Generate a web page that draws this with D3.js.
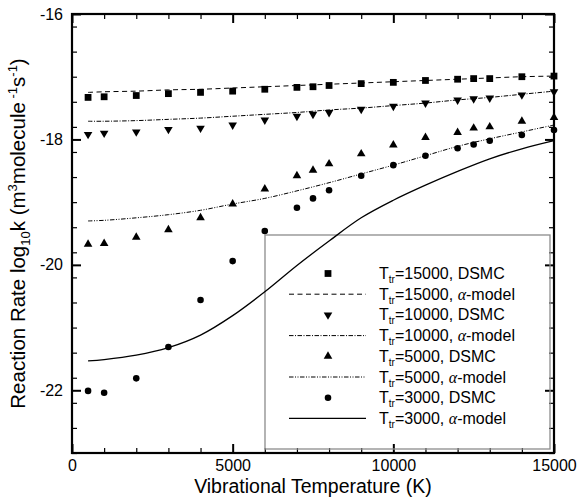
<!DOCTYPE html>
<html>
<head>
<meta charset="utf-8">
<script src="https://cdn.jsdelivr.net/npm/d3@7"></script>
<style>
  body { margin: 0; background: #fff; }
  text { font-family: "Liberation Sans", Arial, sans-serif; fill: #000; }
</style>
</head>
<body>
<svg id="chart" width="579" height="497"></svg>
<script>
// vibrational temperatures of the DSMC samples
const tvDsmc = [500, 1000, 2000, 3000, 4000, 5000, 6000, 7000, 7500, 8000, 9000, 10000, 11000, 12000, 12500, 13000, 14000, 15000];
const dsmc15000 = [-17.33, -17.32, -17.30, -17.27, -17.25, -17.23, -17.20, -17.17, -17.16, -17.14, -17.11, -17.09, -17.06, -17.04, -17.03, -17.03, -17.00, -16.99];
const dsmc10000 = [-17.92, -17.90, -17.88, -17.84, -17.82, -17.77, -17.69, -17.63, -17.60, -17.57, -17.52, -17.47, -17.42, -17.37, -17.35, -17.34, -17.29, -17.24];
const dsmc5000 = [-19.67, -19.66, -19.56, -19.44, -19.25, -19.03, -18.79, -18.58, -18.49, -18.39, -18.23, -18.09, -17.97, -17.89, -17.82, -17.80, -17.71, -17.65];
const dsmc3000 = [-22.01, -22.04, -21.81, -21.31, -20.56, -19.94, -19.46, -19.09, -18.94, -18.81, -18.58, -18.41, -18.26, -18.14, -18.08, -18.02, -17.93, -17.85];

// alpha-model curves
const tvModel = [500, 1000, 2000, 3000, 4000, 5000, 6000, 7000, 8000, 9000, 10000, 11000, 12000, 13000, 14000, 15000];
const model15000 = [-17.25, -17.24, -17.23, -17.21, -17.20, -17.18, -17.16, -17.14, -17.12, -17.10, -17.08, -17.06, -17.04, -17.02, -17.00, -16.99];
const model10000 = [-17.71, -17.71, -17.70, -17.68, -17.66, -17.63, -17.60, -17.57, -17.53, -17.50, -17.46, -17.42, -17.37, -17.33, -17.28, -17.23];
const model5000 = [-19.30, -19.29, -19.25, -19.20, -19.13, -19.03, -18.94, -18.82, -18.69, -18.55, -18.41, -18.26, -18.11, -17.99, -17.88, -17.77];
const model3000 = [-21.53, -21.51, -21.44, -21.32, -21.12, -20.81, -20.43, -20.01, -19.62, -19.25, -18.97, -18.73, -18.51, -18.31, -18.15, -18.02];

const xMajor = [0, 5000, 10000, 15000];
const yMajor = [-22, -20, -18, -16];

const series = [
  { ttr: '15000', dsmc: dsmc15000, model: model15000, marker: 'square', dash: '5,3.5', width: 1 },
  { ttr: '10000', dsmc: dsmc10000, model: model10000, marker: 'down', dash: '4.5,1.5,1,1.5', width: 1 },
  { ttr: '5000', dsmc: dsmc5000, model: model5000, marker: 'up', dash: '4.5,1.5,1,1.5,1,1.5', width: 1 },
  { ttr: '3000', dsmc: dsmc3000, model: model3000, marker: 'circle', dash: null, width: 1.3 }
];

const width = 579, height = 497;
const margin = { top: 14, right: 25, bottom: 44, left: 72 };
const svg = d3.select('#chart');

const x = d3.scaleLinear().domain([0, 15000]).range([margin.left, width - margin.right]);
const y = d3.scaleLinear().domain([-23, -16]).range([height - margin.bottom, margin.top]);

const xMinor = d3.range(0, 15001, 1000).filter(v => !xMajor.includes(v));
const yMinor = d3.range(-23, -15.99, 0.4).map(v => +v.toFixed(1)).filter(v => !yMajor.includes(v));

function markerPath(kind) {
  if (kind === 'square') return d3.symbol(d3.symbolSquare, 46)();
  if (kind === 'circle') return d3.symbol(d3.symbolCircle, 34)();
  return d3.symbol(d3.symbolTriangle, 32)();
}
function markerRotate(kind) {
  return kind === 'down' ? ' rotate(180)' : '';
}

// axes: ticks point inward on all four sides
const yBot = y(-23), yTop = y(-16), xLeft = x(0), xRight = x(15000);
function tickAxis(axis, pos, vals, size, sw, fmt, pad) {
  const g = svg.append('g').attr('transform', pos)
    .call(axis.tickValues(vals).tickSize(size).tickPadding(pad || 0).tickFormat(fmt));
  g.select('.domain').remove();
  g.selectAll('.tick line').attr('stroke', '#000').attr('stroke-width', sw);
  g.selectAll('.tick text').attr('font-size', 16).attr('font-family', '"Liberation Sans", Arial, sans-serif');
  return g;
}
const fmtY = d => String(d);
tickAxis(d3.axisBottom(x), `translate(0,${yBot})`, xMinor, -5, 1.2, '');
tickAxis(d3.axisTop(x), `translate(0,${yTop})`, xMinor, -5, 1.2, '');
tickAxis(d3.axisLeft(y), `translate(${xLeft},0)`, yMinor, -5, 1.2, '');
tickAxis(d3.axisRight(y), `translate(${xRight},0)`, yMinor, -5, 1.2, '');
tickAxis(d3.axisBottom(x), `translate(0,${yBot})`, xMajor, -9, 2, d3.format('d'), 7);
tickAxis(d3.axisTop(x), `translate(0,${yTop})`, xMajor, -9, 2, '');
tickAxis(d3.axisLeft(y), `translate(${xLeft},0)`, yMajor, -9, 2, fmtY, 9);
tickAxis(d3.axisRight(y), `translate(${xRight},0)`, yMajor, -9, 2, '');

// legend box (drawn under the data, no fill)
const legend = { x: 265, y: 235, w: 285, h: 214 };
svg.append('rect')
  .attr('x', legend.x).attr('y', legend.y).attr('width', legend.w).attr('height', legend.h)
  .attr('fill', 'none').attr('stroke', '#8c8c8c').attr('stroke-width', 1.3);

// model curves
const line = d3.line().x(d => x(d[0])).y(d => y(d[1])).curve(d3.curveCatmullRom);
series.forEach(s => {
  svg.append('path')
    .attr('d', line(tvModel.map((t, i) => [t, s.model[i]])))
    .attr('fill', 'none').attr('stroke', '#000').attr('stroke-width', s.width)
    .attr('stroke-dasharray', s.dash);
});

// DSMC points
series.forEach(s => {
  svg.append('g').selectAll('path').data(s.dsmc).enter().append('path')
    .attr('d', markerPath(s.marker))
    .attr('transform', (d, i) => `translate(${x(tvDsmc[i])},${y(d)})${markerRotate(s.marker)}`)
    .attr('fill', '#000');
});

// frame
svg.append('rect')
  .attr('x', xLeft).attr('y', yTop).attr('width', xRight - xLeft).attr('height', yBot - yTop)
  .attr('fill', 'none').attr('stroke', '#000').attr('stroke-width', 2.2);

// legend rows
const rowY0 = 273.5, rowStep = 20.7, symX = 328, lineX0 = 289, lineX1 = 366, textX = 379;
let row = 0;
series.forEach(s => {
  ['DSMC', 'model'].forEach(kind => {
    const cy = rowY0 + row * rowStep;
    if (kind === 'DSMC') {
      svg.append('path').attr('d', markerPath(s.marker))
        .attr('transform', `translate(${symX},${cy})${markerRotate(s.marker)}`).attr('fill', '#000');
    } else {
      svg.append('line').attr('x1', lineX0).attr('x2', lineX1).attr('y1', cy).attr('y2', cy)
        .attr('stroke', '#000').attr('stroke-width', s.width).attr('stroke-dasharray', s.dash);
    }
    const t = svg.append('text').attr('x', textX).attr('y', cy + 5.5).attr('font-size', 16);
    t.append('tspan').text('T');
    t.append('tspan').attr('font-size', 10).attr('dy', 4).text('tr');
    t.append('tspan').attr('dy', -4).text(`=${s.ttr}, `);
    if (kind === 'DSMC') {
      t.append('tspan').text('DSMC');
    } else {
      t.append('tspan').attr('font-family', '"Liberation Serif", "Times New Roman", serif').attr('font-style', 'italic').text('\u03b1');
      t.append('tspan').text('-model');
    }
    row++;
  });
});

// axis titles
svg.append('text').attr('x', (xLeft + xRight) / 2).attr('y', 493)
  .attr('text-anchor', 'middle').attr('font-size', 19.5).text('Vibrational Temperature (K)');

const yt = svg.append('text').attr('transform', `translate(25,${(yTop + yBot) / 2}) rotate(-90)`)
  .attr('text-anchor', 'middle').attr('font-size', 20.5);
yt.append('tspan').text('Reaction Rate log');
yt.append('tspan').attr('font-size', 13).attr('dy', 5).text('10');
yt.append('tspan').attr('dy', -5).text('k (m');
yt.append('tspan').attr('font-size', 13).attr('dy', -8).text('3');
yt.append('tspan').attr('dy', 8).text('molecule');
yt.append('tspan').attr('font-size', 13).attr('dy', -8).text(' -1');
yt.append('tspan').attr('dy', 8).text('s');
yt.append('tspan').attr('font-size', 13).attr('dy', -8).text('-1');
yt.append('tspan').attr('dy', 8).text(')');
</script>
</body>
</html>
